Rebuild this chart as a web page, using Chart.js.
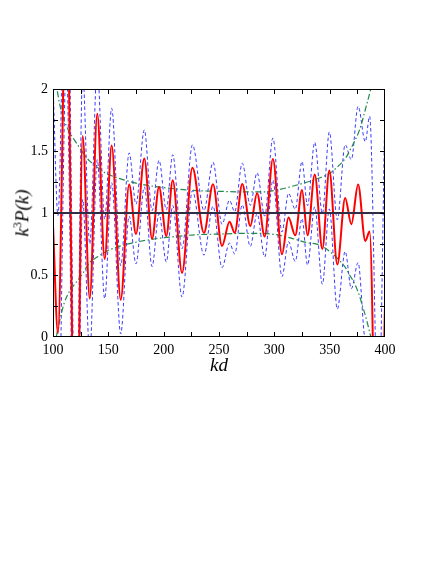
<!DOCTYPE html>
<html>
<head>
  <meta charset="utf-8" />
  <title>k3P(k) vs kd</title>
  <script src="https://cdn.jsdelivr.net/npm/chart.js"></script>
  <style>
    body { margin: 0; background: #fff; }
    #wrap { position: relative; width: 436px; height: 564px; }
    #chart { position: absolute; left: 0; top: 0; }
    .axis-title {
      position: absolute;
      font-family: 'Liberation Serif', 'Times New Roman', serif;
      font-style: italic;
      font-size: 19px;
      color: #000;
      white-space: nowrap;
    }
    #xtitle { left: 0; width: 438px; top: 354px; text-align: center; }
    #ytitle { left: 22px; top: 213px; transform: translate(-50%, -50%) rotate(-90deg); }
    #ytitle sup { font-size: 12px; font-style: normal; }
  </style>
</head>
<body>
  <div id="wrap">
    <canvas id="chart" width="436" height="564"></canvas>
    <div class="axis-title" id="xtitle">kd</div>
    <div class="axis-title" id="ytitle">k<sup>3</sup>P(k)</div>
  </div>

  <script>
    // positions of the oscillation extrema (kd)
    var kd = [100, 104.5, 112, 120.8, 126.8, 133.2, 140, 146.7, 153, 161.2, 168.8, 175, 182.5, 189.5, 195.8,
              202.4, 208.2, 216.6, 226, 236.4, 244.6, 252.7, 259.5, 264.2, 271, 278.3, 284.4, 291.3, 298.7,
              306.9, 312.8, 318.9, 325, 330, 336.5, 343.4, 349.7, 356.9, 364, 369.6, 375.7, 382.2, 386.1, 394, 400];

    // red solid curve
    var redP = [0.9, 0.03, 2.9, -1.6, 1.62, 0.31, 1.8, 0.63, 1.545, 0.3, 1.23, 0.83, 1.44, 0.793, 1.21,
                0.815, 1.265, 0.517, 1.365, 0.84, 1.232, 0.734, 0.93, 0.84, 1.234, 0.896, 1.16, 0.81, 1.435,
                0.667, 0.964, 0.82, 1.185, 0.82, 1.31, 0.71, 1.343, 0.585, 1.12, 0.91, 1.23, 0.775, 0.85, -2.0, 0.25];

    // blue dashed pair (upper and lower)
    var blueUpper = [2.05, 0.98, 3.61, -1.02, 2.13, 0.75, 2.17, 0.95, 1.845, 0.575, 1.485, 1.07, 1.67, 1.018, 1.425,
                     1.025, 1.47, 0.712, 1.55, 1.02, 1.409, 0.909, 1.102, 1.01, 1.402, 1.062, 1.325, 0.975, 1.605,
                     0.847, 1.159, 1.03, 1.415, 1.06, 1.57, 0.995, 1.653, 0.945, 1.55, 1.43, 1.86, 1.575, 1.78, -0.7, 1.85];
    var blueLower = [-0.25, -0.92, 2.19, -2.18, 1.11, -0.13, 1.43, 0.31, 1.245, 0.025, 0.975, 0.59, 1.21, 0.568, 0.995,
                     0.605, 1.06, 0.322, 1.18, 0.66, 1.055, 0.559, 0.758, 0.67, 1.066, 0.73, 0.995, 0.645, 1.265,
                     0.487, 0.769, 0.61, 0.955, 0.58, 1.05, 0.425, 1.033, 0.225, 0.69, 0.39, 0.6, -0.025, -0.08, -3.3, -1.35];

    // green dash-dot envelope
    var envKd = [100, 103, 106, 110, 115, 120, 126, 133, 140, 148, 156, 165, 178, 195, 210, 230, 250, 270, 290,
                 305, 318, 330, 340, 350, 358, 365, 368, 372, 377, 380, 383, 388, 395, 400];
    var envUpper = [2.18, 2.03, 1.88, 1.75, 1.65, 1.58, 1.5, 1.42, 1.37, 1.32, 1.29, 1.265, 1.235, 1.21, 1.195, 1.18,
                    1.175, 1.17, 1.17, 1.19, 1.22, 1.25, 1.28, 1.32, 1.38, 1.45, 1.5, 1.57, 1.67, 1.76, 1.86, 2.03, 2.3, 2.6];
    var envLower = [-0.2, 0.0, 0.13, 0.27, 0.37, 0.43, 0.5, 0.6, 0.645, 0.69, 0.72, 0.745, 0.77, 0.795, 0.81, 0.825,
                    0.83, 0.835, 0.835, 0.82, 0.79, 0.76, 0.745, 0.69, 0.625, 0.55, 0.5, 0.44, 0.33, 0.24, 0.15, -0.03, -0.3, -0.6];

    // unity reference line
    var unityKd = [100, 400];
    var unityVal = [1, 1];

    var xTickLabels = [100, 150, 200, 250, 300, 350, 400];
    var yTickLabels = [0, 0.5, 1, 1.5, 2];

    function pts(xs, ys) {
      return xs.map(function (x, i) { return { x: x, y: ys[i] }; });
    }

    var serif = "'Liberation Serif', 'Times New Roman', serif";

    // frame plus inward ticks on all four sides
    var frameTicks = {
      id: 'frameTicks',
      afterDraw: function (chart) {
        var ctx = chart.ctx, a = chart.chartArea;
        var xs = chart.scales.x, ys = chart.scales.y;
        ctx.save();
        ctx.strokeStyle = '#000';
        ctx.lineWidth = 1;
        ctx.strokeRect(a.left + 0.5, a.top + 0.5, a.right - a.left - 1, a.bottom - a.top - 1);
        ctx.beginPath();
        xs.ticks.forEach(function (t) {
          var px = Math.round(xs.getPixelForValue(t.value)) + 0.5;
          if (t.value <= xs.min || t.value >= xs.max) return;
          ctx.moveTo(px, a.bottom); ctx.lineTo(px, a.bottom - 5);
          ctx.moveTo(px, a.top); ctx.lineTo(px, a.top + 5);
        });
        ys.ticks.forEach(function (t) {
          var py = Math.round(ys.getPixelForValue(t.value)) + 0.5;
          if (t.value <= ys.min || t.value >= ys.max) return;
          ctx.moveTo(a.left, py); ctx.lineTo(a.left + 5, py);
          ctx.moveTo(a.right, py); ctx.lineTo(a.right - 5, py);
        });
        ctx.stroke();
        ctx.restore();
      }
    };

    var ctx = document.getElementById('chart').getContext('2d');
    new Chart(ctx, {
      type: 'line',
      data: {
        datasets: [
          { data: pts(unityKd, unityVal), borderColor: '#2e2e44', borderWidth: 2, tension: 0 },
          { data: pts(kd, redP), borderColor: '#ff0000', borderWidth: 2, cubicInterpolationMode: 'monotone' },
          { data: pts(envKd, envUpper), borderColor: '#1f8a4c', borderWidth: 1.2, borderDash: [6, 2.5, 1.5, 2.5], cubicInterpolationMode: 'monotone' },
          { data: pts(envKd, envLower), borderColor: '#1f8a4c', borderWidth: 1.2, borderDash: [6, 2.5, 1.5, 2.5], cubicInterpolationMode: 'monotone' },
          { data: pts(kd, blueUpper), borderColor: '#3b3bff', borderWidth: 1, borderDash: [3.5, 2.5], cubicInterpolationMode: 'monotone' },
          { data: pts(kd, blueLower), borderColor: '#3b3bff', borderWidth: 1, borderDash: [3.5, 2.5], cubicInterpolationMode: 'monotone' }
        ]
      },
      options: {
        responsive: false,
        animation: false,
        layout: { padding: { top: 89, right: 51, left: 0, bottom: 0 } },
        elements: { point: { radius: 0 }, line: { fill: false } },
        datasets: { line: { clip: 0 } },
        plugins: { legend: { display: false }, tooltip: { enabled: false } },
        scales: {
          x: {
            type: 'linear', min: 100, max: 400,
            afterFit: function (s) { s.height = 227; },
            grid: { display: false, drawTicks: false },
            border: { display: false },
            ticks: {
              stepSize: 25, autoSkip: false, maxRotation: 0, padding: 5,
              color: '#000', font: { family: serif, size: 14 },
              callback: function (v) { return xTickLabels.indexOf(v) >= 0 ? String(v) : ''; }
            }
          },
          y: {
            type: 'linear', min: 0, max: 2,
            afterFit: function (s) { s.width = 53; },
            grid: { display: false, drawTicks: false },
            border: { display: false },
            ticks: {
              stepSize: 0.25, autoSkip: false, padding: 5,
              color: '#000', font: { family: serif, size: 14 },
              callback: function (v) { return yTickLabels.indexOf(v) >= 0 ? String(v) : ''; }
            }
          }
        }
      },
      plugins: [frameTicks]
    });
  </script>
</body>
</html>
